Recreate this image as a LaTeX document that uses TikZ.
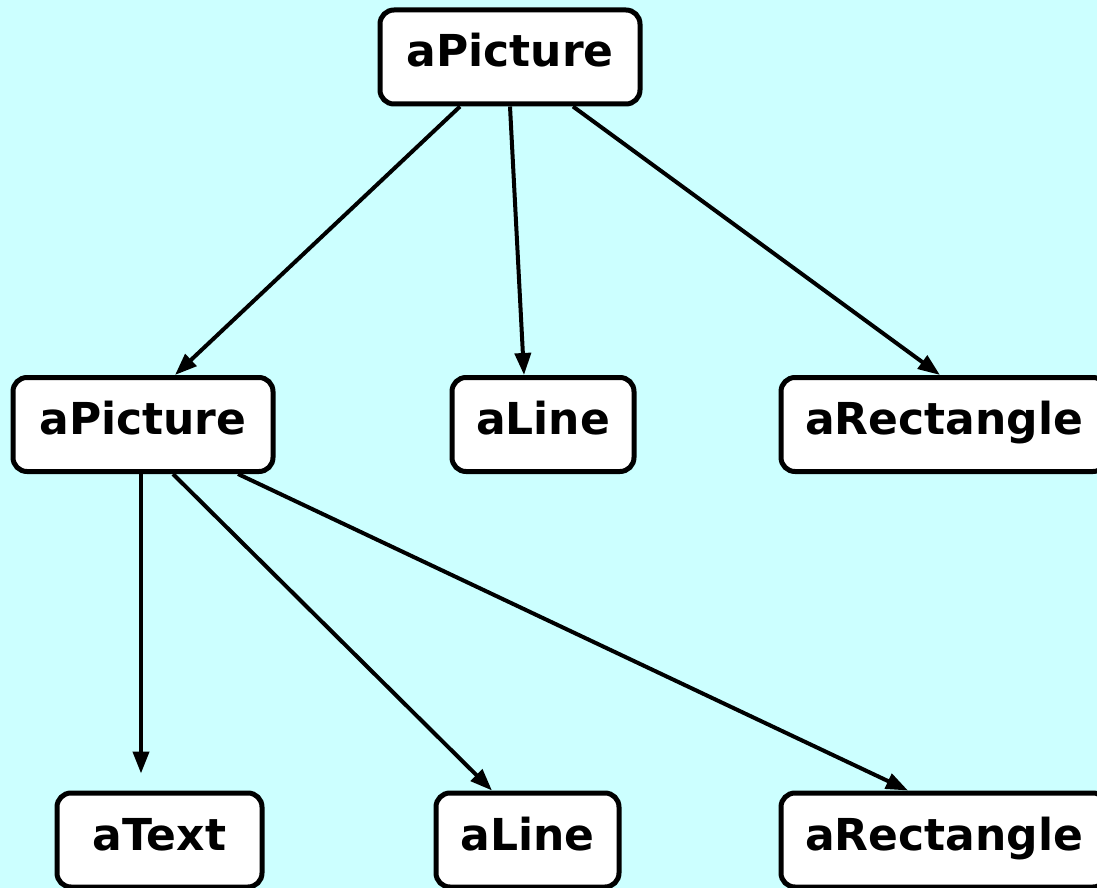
\documentclass[tikz,border=0pt]{standalone}
\usepackage{fontspec}
\setmainfont{DejaVu Sans}
\usepackage{xcolor}
\usepackage{tikz}
\usetikzlibrary{arrows.meta, positioning}

\definecolor{skycyan}{RGB}{204,255,255}

\begin{document}
\begin{tikzpicture}[
    x=1pt, y=-1pt,
    objbox/.style={rectangle, rounded corners=14pt, draw=black, fill=white, line width=5pt, minimum height=94pt, inner sep=0pt, text height=32pt, text depth=12pt, align=center, font=\fontsize{44}{52}\selectfont\bfseries},
    arrow/.style={-{Triangle[length=22pt, width=16pt]}, line width=4pt}
]
\fill [skycyan] (0,0) rectangle (1097,888);
\useasboundingbox (0,0) rectangle (1097,888);
% object tree
\node (root) [objbox, minimum width=260pt] at (510,57) {aPicture};
\node (subpic) [objbox, minimum width=260pt] at (143,424.5) {aPicture};
\node (line1) [objbox, minimum width=182pt] at (543,424.5) {aLine};
\node (rect1) [objbox, minimum width=326pt] at (944,424.5) {aRectangle};
\node (text2) [objbox, minimum width=205pt] at (159.5,840) {aText};
\node (line2) [objbox, minimum width=183pt] at (527.5,840) {aLine};
\node (rect2) [objbox, minimum width=326pt] at (944,840) {aRectangle};
\draw [arrow] ([xshift=-50pt]root.south) -- ([xshift=32pt]subpic.north);
\draw [arrow] (root.south) -- ([xshift=-19pt]line1.north);
\draw [arrow] ([xshift=63pt]root.south) -- ([xshift=-4pt]rect1.north);
\draw [arrow] ([xshift=-2pt]subpic.south) -- ([xshift=-18.5pt, yshift=17pt]text2.north);
\draw [arrow] ([xshift=30pt]subpic.south) -- ([xshift=-35.5pt]line2.north);
\draw [arrow] ([xshift=95pt]subpic.south) -- ([xshift=-36pt]rect2.north);
\end{tikzpicture}
\end{document}
